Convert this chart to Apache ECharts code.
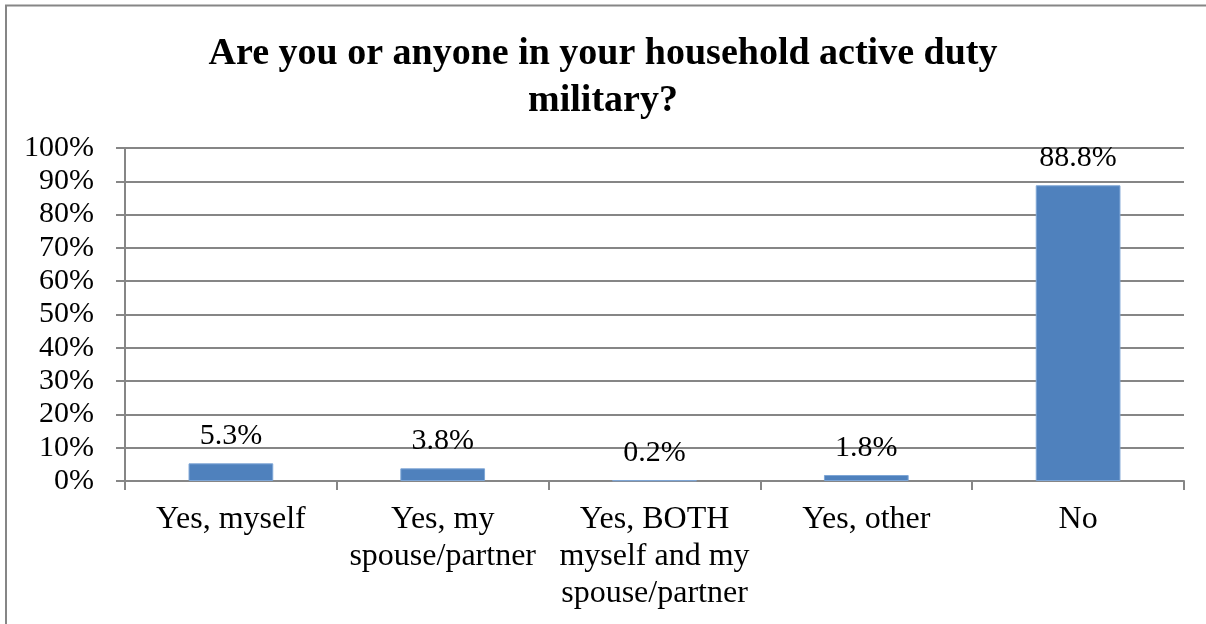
<!DOCTYPE html>
<html>
<head>
<meta charset="utf-8">
<script src="https://cdn.jsdelivr.net/npm/echarts@6/dist/echarts.min.js"></script>
<style>
  html, body { margin: 0; padding: 0; background: #ffffff; }
  #chart { width: 1206px; height: 624px; }
</style>
</head>
<body>
<div id="chart"></div>
<script>
// Survey answers and their shares of respondents
const categories = [
  'Yes, myself',
  'Yes, my\nspouse/partner',
  'Yes, BOTH\nmyself and my\nspouse/partner',
  'Yes, other',
  'No'
];
const shares = [0.053, 0.038, 0.002, 0.018, 0.888];
const titleText = 'Are you or anyone in your household active duty\nmilitary?';

const serif = '"Liberation Serif", "Times New Roman", serif';
const gridGray = '#868686';

const chart = echarts.init(document.getElementById('chart'), null, { renderer: 'canvas' });

chart.setOption({
  animation: false,
  backgroundColor: '#ffffff',
  // chart frame: left and top edges
  graphic: [{
    type: 'polyline',
    shape: { points: [[6, 624], [6, 5.5], [1206, 5.5]] },
    style: { fill: 'none', stroke: gridGray, lineWidth: 2 },
    silent: true
  }],
  title: {
    text: titleText,
    left: 'center',
    top: 26,
    textStyle: {
      fontFamily: serif,
      fontWeight: 'bold',
      fontSize: 38,
      lineHeight: 47,
      color: '#000000'
    }
  },
  grid: { left: 125, right: 22, top: 148, bottom: 143, containLabel: false },
  xAxis: {
    type: 'category',
    data: categories,
    axisLine: { lineStyle: { color: gridGray, width: 2 } },
    axisTick: { show: true, length: 9, lineStyle: { color: gridGray, width: 2 } },
    axisLabel: {
      interval: 0,
      margin: 20,
      fontFamily: serif,
      fontSize: 32,
      lineHeight: 37,
      color: '#000000'
    }
  },
  yAxis: {
    type: 'value',
    min: 0,
    max: 1,
    interval: 0.1,
    axisLine: { show: true, lineStyle: { color: gridGray, width: 2 } },
    axisTick: { show: true, length: 9, lineStyle: { color: gridGray, width: 2 } },
    splitLine: { show: true, lineStyle: { color: gridGray, width: 2 } },
    axisLabel: {
      margin: 31,
      fontFamily: serif,
      fontSize: 30,
      color: '#000000',
      formatter: v => Math.round(v * 100) + '%'
    }
  },
  series: [{
    type: 'bar',
    data: shares,
    barWidth: '40%',
    itemStyle: { color: '#4F81BD', borderColor: '#7EA6D6', borderWidth: 1 },
    label: {
      show: true,
      position: 'top',
      distance: 12,
      fontFamily: serif,
      fontSize: 30,
      color: '#000000',
      formatter: p => (p.value * 100).toFixed(1) + '%'
    }
  }]
});
</script>
</body>
</html>
